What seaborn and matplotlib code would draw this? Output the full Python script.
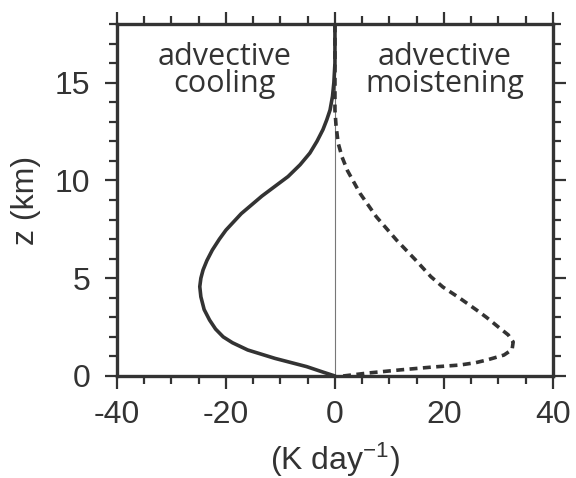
import matplotlib
matplotlib.use("Agg")
import matplotlib.pyplot as plt
import seaborn as sns
import pandas as pd
from matplotlib.ticker import MultipleLocator

# Advective cooling (solid) profile: K/day vs height (km)
cool_x = [0.0, -2.2, -5.2, -11.0, -16.0, -18.8, -20.5, -21.9, -23.0, -24.0, -24.6,
          -24.8, -24.6, -24.2, -23.5, -22.5, -21.2, -20.0, -17.2, -13.4, -8.6,
          -6.4, -4.6, -3.3, -2.2, -1.5, -0.9, -0.45, -0.2, 0.0, 0.0]
cool_z = [0.0, 0.2, 0.48, 0.9, 1.33, 1.7, 2.0, 2.4, 2.86, 3.4, 4.05,
          4.57, 5.0, 5.42, 5.9, 6.44, 7.0, 7.46, 8.3, 9.2, 10.2,
          10.8, 11.4, 12.0, 12.6, 13.1, 13.6, 14.3, 15.0, 16.0, 18.0]

# Advective moistening (dashed) profile
moist_x = [1.5, 6.0, 11.9, 18.0, 22.9, 25.8, 27.9, 31.0, 32.5, 32.7, 31.8, 30.0,
           27.8, 26.0, 22.8, 19.8, 17.6, 14.8, 11.3, 7.6, 4.6, 2.3, 1.3, 0.6,
           0.2, 0.0, 0.0]
moist_z = [0.0, 0.15, 0.31, 0.46, 0.56, 0.68, 0.82, 1.07, 1.35, 1.74, 2.1, 2.5,
           3.0, 3.37, 4.0, 4.55, 5.08, 5.93, 6.95, 8.14, 9.34, 10.5, 11.2, 11.9,
           12.8, 13.6, 18.0]

x_ticks = [-40, -20, 0, 20, 40]
y_ticks = [0, 5, 10, 15]

sns.set_theme(style="white")
plt.rcParams['font.family'] = ['Liberation Sans', 'DejaVu Sans']
plt.rcParams['mathtext.default'] = 'regular'

col = "#333333"
fig = plt.figure(figsize=(5.76, 4.78), dpi=100)
ax = fig.add_axes([0.203, 0.2134, 0.757, 0.7364])

ax.axvline(0, color="#777777", lw=0.8, zorder=1)

df_c = pd.DataFrame({"x": cool_x, "z": cool_z})
df_m = pd.DataFrame({"x": moist_x, "z": moist_z})
sns.lineplot(data=df_c, x="x", y="z", sort=False, estimator=None, ax=ax,
             color=col, lw=2.6, zorder=3)
sns.lineplot(data=df_m, x="x", y="z", sort=False, estimator=None, ax=ax,
             color=col, lw=2.6, dashes=False, zorder=3, linestyle=(0, (2.2, 1.5)))

ax.set_xlim(-40, 40)
ax.set_ylim(0, 18)
ax.set_xticks(x_ticks)
ax.set_yticks(y_ticks)
ax.set_xticklabels([str(t) for t in x_ticks])
ax.set_yticklabels([str(t) for t in y_ticks])
ax.xaxis.set_minor_locator(MultipleLocator(5))
ax.yaxis.set_minor_locator(MultipleLocator(1))

ax.tick_params(which="both", direction="out", color=col, width=1.6,
               top=True, bottom=True, left=True, right=True,
               labeltop=False, labelright=False)
ax.tick_params(which="major", length=9, labelsize=23, labelcolor=col)
ax.tick_params(axis="x", which="major", pad=8)
ax.tick_params(axis="y", which="major", pad=10)
ax.tick_params(which="minor", length=5.5)
for s in ax.spines.values():
    s.set_visible(True)
    s.set_color(col)
    s.set_linewidth(2.4)

ax.set_xlabel("(K day$^{-1}$)", fontsize=23, color=col, labelpad=8)
ax.set_ylabel("z (km)", fontsize=23, color=col, labelpad=10)

tfam = ["Open Sans", "DejaVu Sans"]
ax.text(-20.2, 14.52, "advective\ncooling", ha="center", va="baseline",
        fontsize=22, color=col, family=tfam, linespacing=0.85,
        multialignment="center")
ax.text(20.2, 14.52, "advective\nmoistening", ha="center", va="baseline",
        fontsize=22, color=col, family=tfam, linespacing=0.85,
        multialignment="center")

fig.savefig("out.png", dpi=100, facecolor="white")
